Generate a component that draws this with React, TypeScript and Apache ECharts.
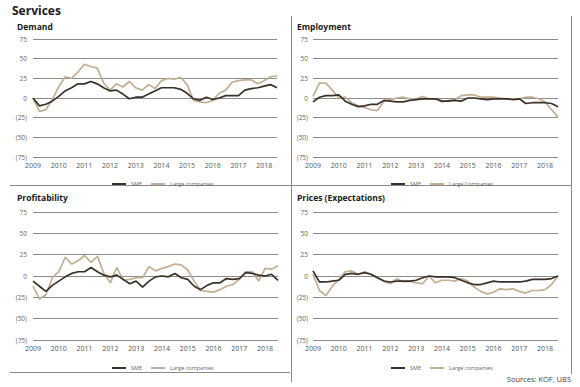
import React, { useEffect, useRef } from "react";
import * as echarts from "echarts";

const categories = [
  "2009 Q1","2009 Q2","2009 Q3","2009 Q4",
  "2010 Q1","2010 Q2","2010 Q3","2010 Q4",
  "2011 Q1","2011 Q2","2011 Q3","2011 Q4",
  "2012 Q1","2012 Q2","2012 Q3","2012 Q4",
  "2013 Q1","2013 Q2","2013 Q3","2013 Q4",
  "2014 Q1","2014 Q2","2014 Q3","2014 Q4",
  "2015 Q1","2015 Q2","2015 Q3","2015 Q4",
  "2016 Q1","2016 Q2","2016 Q3","2016 Q4",
  "2017 Q1","2017 Q2","2017 Q3","2017 Q4",
  "2018 Q1","2018 Q2","2018 Q3",
];

const demandSME = [0,-10,-8,-4,2,9,13,18,18,21,18,13,9,10,5,-1,1,1,5,9,13,13,13,11,6,-1,-3,1,-2,0,3,3,3,10,12,13,15,17,13];
const demandLarge = [0,-17,-15,-2,14,27,25,33,43,40,38,19,10,18,14,21,13,10,17,12,22,25,24,26,17,-3,-5,-6,-3,6,10,20,22,23,23,18,22,27,28];

const employmentSME = [-5,1,3,3,4,-4,-8,-11,-10,-8,-8,-3,-4,-5,-5,-3,-2,-1,-1,-1,-4,-4,-3,-4,0,0,-1,-2,-1,-1,-1,-2,-1,-7,-6,-6,-6,-7,-11];
const employmentLarge = [2,19,19,10,0,1,-6,-10,-12,-15,-16,-4,-2,0,1,-1,-1,2,-1,-1,-5,-3,-2,3,4,4,1,1,1,0,-1,-1,-1,1,1,-1,-5,-15,-24];

const profitabilitySME = [-6,-12,-18,-11,-6,-1,3,5,5,10,5,1,-1,1,-4,-9,-6,-13,-6,-1,0,-1,3,-2,-4,-12,-16,-11,-8,-8,-3,-4,-3,4,3,1,0,2,-5];
const profitabilityLarge = [-12,-27,-22,-2,5,22,14,18,24,16,23,3,-8,10,-5,-4,-2,-2,11,6,9,11,14,13,7,-6,-17,-18,-19,-16,-12,-10,-4,5,5,-6,9,8,12];

const pricesSME = [6,-7,-7,-6,-5,2,3,2,4,2,-2,-6,-7,-6,-6,-6,-5,-2,0,-1,-1,-1,-2,-5,-8,-10,-10,-8,-6,-7,-7,-7,-7,-6,-4,-4,-4,-3,0];
const pricesLarge = [2,-17,-23,-12,-4,5,6,2,5,2,-2,-6,-9,-3,-7,-6,-8,-9,0,-8,-5,-5,-6,-3,-6,-13,-18,-21,-19,-15,-16,-15,-18,-20,-17,-17,-16,-10,0];

const panelTitles = ["Demand", "Employment", "Profitability", "Prices (Expectations)"];
const largeNames = ["Large companies", "Large Companies", "Large companies", "Large companies"];

const SME_COLOR = "#3a3128";
const LARGE_COLOR = "#c3ae90";
const FONT = "'Open Sans', 'Noto Sans', sans-serif";

export default function App() {
  const ref = useRef<HTMLDivElement>(null);

  useEffect(() => {
    if (!ref.current) return;
    const chart = echarts.init(ref.current, undefined, { renderer: "svg" });

    const grids = [
      { left: 33, top: 39, width: 244, height: 118 },
      { left: 313, top: 39, width: 245, height: 118 },
      { left: 33, top: 212, width: 245, height: 128 },
      { left: 313, top: 212, width: 245, height: 128 },
    ];
    const seriesData = [
      [demandSME, demandLarge],
      [employmentSME, employmentLarge],
      [profitabilitySME, profitabilityLarge],
      [pricesSME, pricesLarge],
    ];

    const xAxis = grids.map((_, i) => ({
      type: "category",
      gridIndex: i,
      data: categories,
      boundaryGap: false,
      axisLine: { show: false },
      axisTick: { show: false },
      axisLabel: {
        interval: 3,
        margin: 5,
        fontSize: 7,
        color: "#555",
        fontFamily: FONT,
        formatter: (v: string) => v.slice(0, 4),
      },
      splitLine: { show: false },
    }));

    const yAxis = grids.map((_, i) => ({
      type: "value",
      gridIndex: i,
      min: -75,
      max: 75,
      interval: 25,
      axisLine: { show: false },
      axisTick: { show: false },
      axisLabel: {
        margin: i % 2 === 0 ? 6 : 5,
        fontSize: 6.5,
        color: "#666",
        fontFamily: FONT,
        formatter: (v: number) => (v < 0 ? `(${-v})` : `${v}`),
      },
      splitLine: { show: true, lineStyle: { color: "#6e6e6e", width: 0.8 } },
    }));

    const series: any[] = [];
    seriesData.forEach((pair, i) => {
      series.push({
        name: "SME",
        type: "line",
        xAxisIndex: i,
        yAxisIndex: i,
        data: pair[0],
        symbol: "none",
        lineStyle: { color: SME_COLOR, width: 1.7 },
        itemStyle: { color: SME_COLOR },
        z: 3,
      });
      series.push({
        name: largeNames[i],
        type: "line",
        xAxisIndex: i,
        yAxisIndex: i,
        data: pair[1],
        symbol: "none",
        lineStyle: { color: LARGE_COLOR, width: 1.7 },
        itemStyle: { color: LARGE_COLOR },
        z: 2,
      });
    });

    const legendPos = [
      { left: 107, top: 176 },
      { left: 386, top: 176 },
      { left: 107, top: 360 },
      { left: 386, top: 360 },
    ];
    const legend = legendPos.map((p, i) => ({
      ...p,
      data: [
        { name: "SME", icon: "rect" },
        { name: largeNames[i], icon: "rect" },
      ],
      itemWidth: 14,
      itemHeight: 2,
      itemGap: 9,
      textStyle: { fontSize: 5.5, color: "#666", fontFamily: FONT },
      selectedMode: false,
    }));

    const titleText = (text: string, x: number, y: number, size: number) => ({
      type: "text",
      x,
      y,
      style: {
        text,
        fontSize: size,
        fontWeight: "bold",
        fontFamily: FONT,
        fill: "#1a1a1a",
        verticalAlign: "middle",
      },
    });

    const sepLine = (x1: number, y1: number, x2: number, y2: number) => ({
      type: "line",
      shape: { x1, y1, x2, y2 },
      style: { stroke: "#8a8a8a", lineWidth: 1 },
    });

    const graphic = [
      titleText("Services", 12, 10, 12),
      titleText(panelTitles[0], 17, 26, 8.5),
      titleText(panelTitles[1], 297, 26, 8.5),
      titleText(panelTitles[2], 17, 197, 8.5),
      titleText(panelTitles[3], 297, 197, 8.5),
      sepLine(10, 185.5, 572, 185.5),
      sepLine(291.5, 16, 291.5, 382),
      sepLine(571.5, 16, 571.5, 374),
      sepLine(10, 372.5, 290, 372.5),
      {
        type: "text",
        x: 571,
        y: 379,
        style: {
          text: "Sources: KOF, UBS",
          fontSize: 7.5,
          fontFamily: FONT,
          fill: "#444",
          align: "right",
          verticalAlign: "middle",
        },
      },
    ];

    chart.setOption({
      animation: false,
      backgroundColor: "#ffffff",
      grid: grids,
      xAxis,
      yAxis,
      legend,
      series,
      graphic,
    } as any);

    return () => chart.dispose();
  }, []);

  return (
    <div
      ref={ref}
      style={{ position: "fixed", left: 0, top: 0, width: 580, height: 387, background: "#fff" }}
    />
  );
}
